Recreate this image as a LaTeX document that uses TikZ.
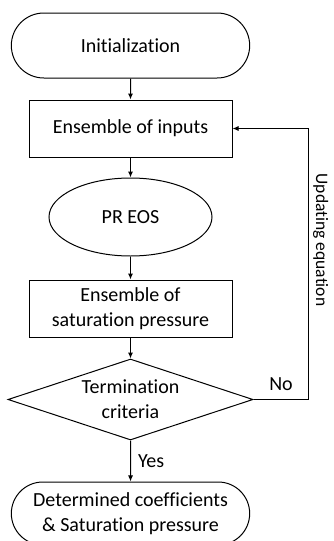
\documentclass[tikz,border=0pt]{standalone}
\usepackage{fontspec}
\setmainfont{Carlito}[Ligatures=NoCommon]
\usetikzlibrary{positioning,shapes.geometric,shapes.misc,arrows.meta}

\begin{document}
\begin{tikzpicture}[
    x=1pt, y=-1pt,
    font=\fontsize{20}{25}\selectfont,
    box/.style={draw, thick, align=center},
    terminal/.style={box, rounded rectangle, minimum width=245pt, minimum height=65pt},
    process/.style={box, rectangle, minimum width=203pt, minimum height=57pt},
    model/.style={box, ellipse, minimum width=163pt, minimum height=78pt},
    decision/.style={box, diamond, aspect=3, inner sep=1pt, minimum width=245pt, minimum height=81pt},
    flow/.style={thick, -{Latex[length=6pt,width=5pt]}},
    thick/.style={line width=1pt}
  ]
    \useasboundingbox (0,0) rectangle (333,541);

% --- Main column of the flow chart ---
    \node[terminal] (init) at (130.5,45.5) {Initialization};
    \node[process, below=21pt of init] (inputs) {Ensemble of inputs};
    \node[model, below=20pt of inputs] (pr) {PR EOS};
    \node[process, below=23pt of pr] (sat) {Ensemble of\\saturation pressure};
    \node[decision, below=21pt of sat] (term) {Termination\\criteria};
    \node[terminal, below=41pt of term, minimum height=63pt] (final) {Determined coefficients\\\& Saturation pressure};

% --- Straight arrows ---
    \draw[flow] (init) -- (inputs);
    \draw[flow] (inputs) -- (pr);
    \draw[flow] (pr) -- (sat);
    \draw[flow] (sat) -- (term);
    \draw[flow] (term) -- node[right, inner sep=7pt] {Yes} (final);

% --- Feedback loop ---
    \draw[flow] (term.east) -- node[above, inner sep=8pt] {No} ++(55pt,0) coordinate (bend) |- (inputs.east);
    \node[rotate=-90, anchor=south, inner sep=5pt, font=\fontsize{17.5}{21}\selectfont] (update) at (308,240) {Updating equation};

  \end{tikzpicture}
\end{document}
